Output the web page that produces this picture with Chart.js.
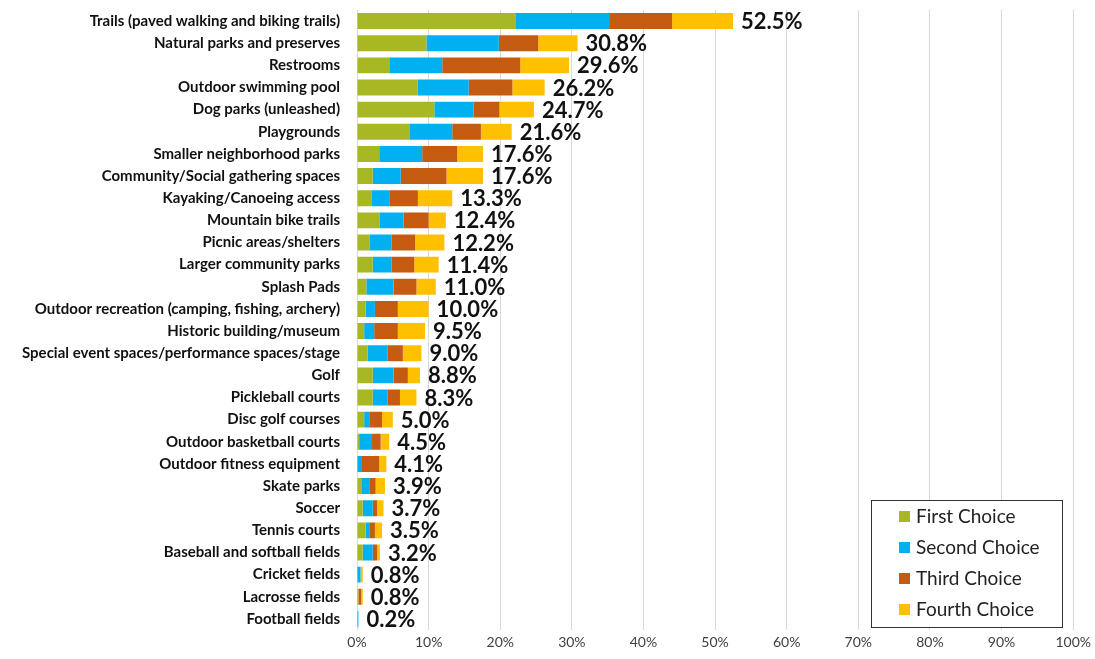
<!DOCTYPE html>
<html>
<head>
<meta charset="utf-8">
<script src="https://cdn.jsdelivr.net/npm/chart.js@4.4.1/dist/chart.umd.min.js"></script>
<style>
    html, body { margin: 0; padding: 0; background: #fff; }
    #wrap { width: 1095px; height: 659px; position: relative; }
</style>
</head>
<body>
<div id="wrap"><canvas id="amenityChart"></canvas></div>
<script>
// Amenity categories (top to bottom)
const categories = [
    'Trails (paved walking and biking trails)', 'Natural parks and preserves', 'Restrooms',
    'Outdoor swimming pool', 'Dog parks (unleashed)', 'Playgrounds', 'Smaller neighborhood parks',
    'Community/Social gathering spaces', 'Kayaking/Canoeing access', 'Mountain bike trails',
    'Picnic areas/shelters', 'Larger community parks', 'Splash Pads',
    'Outdoor recreation (camping, fishing, archery)', 'Historic building/museum',
    'Special event spaces/performance spaces/stage', 'Golf', 'Pickleball courts', 'Disc golf courses',
    'Outdoor basketball courts', 'Outdoor fitness equipment', 'Skate parks', 'Soccer', 'Tennis courts',
    'Baseball and softball fields', 'Cricket fields', 'Lacrosse fields', 'Football fields'
];

// Percent of respondents per choice rank
const firstChoice  = [22.2, 9.7, 4.5, 8.5, 10.8, 7.3, 3.1, 2.2, 2.0, 3.2, 1.8, 2.2, 1.3, 1.2, 1.0, 1.5, 2.2, 2.2, 1.0, 0.3, 0.0, 0.7, 0.8, 1.2, 0.8, 0.0, 0.2, 0.0];
const secondChoice = [13.0, 10.1, 7.4, 7.1, 5.5, 6.0, 6.0, 3.9, 2.5, 3.3, 3.0, 2.6, 3.8, 1.3, 1.4, 2.8, 2.9, 2.1, 0.8, 1.8, 0.7, 1.1, 1.4, 0.6, 1.4, 0.5, 0.0, 0.2];
const thirdChoice  = [8.8, 5.5, 10.9, 6.1, 3.6, 4.0, 4.9, 6.4, 4.0, 3.5, 3.3, 3.2, 3.2, 3.2, 3.3, 2.1, 2.0, 1.7, 1.7, 1.2, 2.4, 0.8, 0.6, 0.7, 0.6, 0.0, 0.4, 0.0];
const fourthChoice = [8.5, 5.5, 6.8, 4.5, 4.8, 4.3, 3.6, 5.1, 4.8, 2.4, 4.1, 3.4, 2.7, 4.3, 3.8, 2.6, 1.7, 2.3, 1.5, 1.2, 1.0, 1.3, 0.9, 1.0, 0.4, 0.3, 0.2, 0.0];
const totals = [52.5, 30.8, 29.6, 26.2, 24.7, 21.6, 17.6, 17.6, 13.3, 12.4, 12.2, 11.4, 11.0, 10.0, 9.5, 9.0, 8.8, 8.3, 5.0, 4.5, 4.1, 3.9, 3.7, 3.5, 3.2, 0.8, 0.8, 0.2];

const seriesNames = ['First Choice', 'Second Choice', 'Third Choice', 'Fourth Choice'];
const seriesColors = ['#A8B824', '#00B0F0', '#C55A11', '#FFC000'];

// Total label at end of each bar
const totalLabels = {
    id: 'totalLabels',
    afterDatasetsDraw(chart) {
        const ctx = chart.ctx;
        const xs = chart.scales.x, ys = chart.scales.y;
        ctx.save();
        ctx.font = 'bold 22px Lato, sans-serif';
        ctx.fillStyle = '#111';
        ctx.textAlign = 'left';
        ctx.textBaseline = 'middle';
        totals.forEach((t, i) => {
            ctx.fillText(t.toFixed(1) + '%', xs.getPixelForValue(t) + 8, ys.getPixelForValue(i) + 1);
        });
        ctx.restore();
    }
};

// Boxed legend in the lower right
const boxLegend = {
    id: 'boxLegend',
    afterDraw(chart) {
        const ctx = chart.ctx;
        const x0 = 871, y0 = 500, w = 191, h = 127;
        ctx.save();
        ctx.strokeStyle = '#333';
        ctx.lineWidth = 1;
        ctx.fillStyle = '#fff';
        ctx.fillRect(x0, y0, w, h);
        ctx.strokeRect(x0 + 0.5, y0 + 0.5, w, h);
        ctx.font = '19px Lato, sans-serif';
        ctx.textBaseline = 'middle';
        seriesNames.forEach((name, i) => {
            const cy = y0 + 16 + i * 31;
            ctx.fillStyle = seriesColors[i];
            ctx.fillRect(x0 + 28, cy - 5, 11, 11);
            ctx.fillStyle = '#222';
            ctx.fillText(name, x0 + 45, cy + 1);
        });
        ctx.restore();
    }
};

new Chart(document.getElementById('amenityChart'), {
    type: 'bar',
    data: {
        labels: categories,
        datasets: [firstChoice, secondChoice, thirdChoice, fourthChoice].map((d, i) => ({
            label: seriesNames[i],
            data: d,
            backgroundColor: seriesColors[i],
            borderWidth: 0,
            categoryPercentage: 1,
            barPercentage: 0.72
        }))
    },
    options: {
        indexAxis: 'y',
        responsive: true,
        maintainAspectRatio: false,
        animation: false,
        layout: { padding: { top: 10, right: 21, bottom: 0, left: 0 } },
        plugins: {
            legend: { display: false },
            tooltip: { enabled: false }
        },
        scales: {
            x: {
                stacked: true,
                min: 0,
                max: 100,
                afterFit: s => { s.height = 29; },
                grid: { color: '#d9d9d9', drawTicks: false },
                border: { display: false },
                ticks: {
                    stepSize: 10,
                    padding: 4,
                    color: '#404040',
                    font: { family: 'Lato, sans-serif', size: 14 },
                    callback: v => v + '%'
                }
            },
            y: {
                stacked: true,
                afterFit: s => {
                    s.width = 357;
                    s.paddingTop = 0;
                    s.paddingBottom = 0;
                },
                grid: { display: false },
                border: { display: false },
                ticks: {
                    autoSkip: false,
                    padding: 9,
                    color: '#111',
                    font: { family: 'Lato, sans-serif', size: 15, weight: 'bold' }
                }
            }
        }
    },
    plugins: [totalLabels, boxLegend]
});
</script>
</body>
</html>
